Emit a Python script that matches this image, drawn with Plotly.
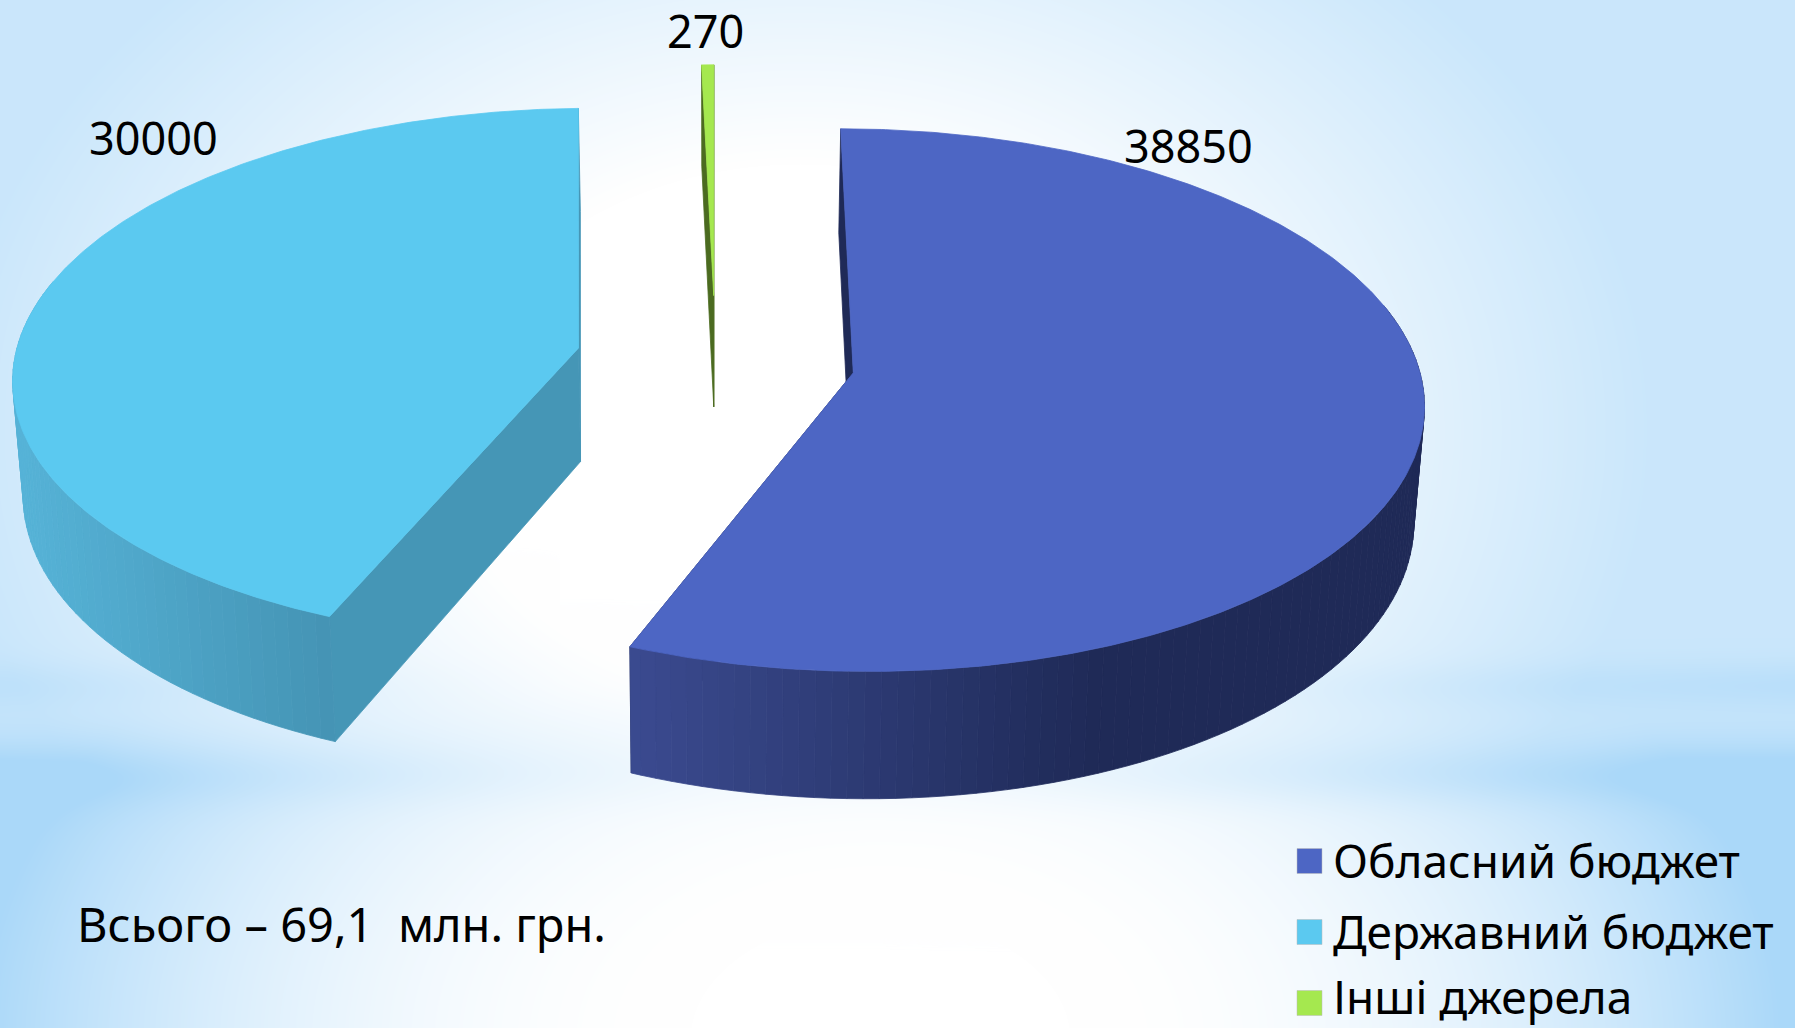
import base64, struct, zlib
import numpy as np
import plotly.graph_objects as go

categories = ["Обласний бюджет", "Державний бюджет", "Інші джерела"]
values = [38850, 30000, 270]
total_text = "Всього – 69,1  млн. грн."
top_colors = ["#4D66C4", "#5BC9F0", "#A5E84F"]
side_colors = [("#3B4B90", "#1F2A57"), ("#56B3D7", "#4594B5"), ("#4B6B20", "#4B6B20")]
cut_colors = ["#1F2A57", "#4596B6", "#4B6B20"]

W, H = 1795, 1028
X0, Y0, RX, RY, DEPTH, PERSP, PULL, SHRINK = 715.4, 360.0, 564.0, 266.0, 114.0, 0.10, 0.248, 0.985
FONT = "Noto Sans"


def background():
    yy, xx = np.mgrid[0:H, 0:W]
    up = np.hypot((xx - 800) / 1000, (yy - 430) / 760)
    low = np.hypot((xx - 880) / 950, (yy - 1040) / 620)
    t_up = 0.62 * np.clip((up - 0.35) / 0.5, 0, 1)
    edge = np.abs(xx - 800) / 800
    band = np.exp(-((yy - 775) / 30.0) ** 2) * (0.02 + 0.22 * np.clip(edge - 0.1, 0, 1))
    band2 = np.exp(-((yy - 685) / 24.0) ** 2) * np.clip(edge - 0.3, 0, 1) * 0.2
    t_low = np.clip((low - 0.2) / 0.75, 0, 1) ** 2
    m = np.clip((yy - 680) / 150.0, 0, 1)
    mix = m * m * (3 - 2 * m)
    t = t_up * (1 - mix) + t_low * mix
    t = np.clip(t + band + band2, 0, 1)
    c0, c1 = np.array([255, 255, 255.0]), np.array([170, 216, 249.0])
    img = (c0[None, None, :] * (1 - t[..., None]) + c1[None, None, :] * t[..., None]).astype(np.uint8)
    raw = b"".join(b"\x00" + img[r].tobytes() for r in range(H))

    def chunk(tag, data):
        return struct.pack(">I", len(data)) + tag + data + struct.pack(">I", zlib.crc32(tag + data) & 0xFFFFFFFF)

    png = b"\x89PNG\r\n\x1a\n" + chunk(b"IHDR", struct.pack(">IIBBBBB", W, H, 8, 2, 0, 0, 0)) + chunk(b"IDAT", zlib.compress(raw, 9)) + chunk(b"IEND", b"")
    return "data:image/png;base64," + base64.b64encode(png).decode()


def project(u, v, lower=False):
    w = 1.0 / (1.0 - PERSP * v)
    x = X0 + RX * u * w
    y = Y0 + RY * v * w
    if lower:
        x = X0 + (x - X0) * SHRINK
        y = y + DEPTH * w
    return x, y


def hex_rgb(c):
    return np.array([int(c[i:i + 2], 16) for i in (1, 3, 5)], float)


def blend(c0, c1, f):
    r = hex_rgb(c0) * (1 - f) + hex_rgb(c1) * f
    return "rgb(%d,%d,%d)" % tuple(r)


def polygon(xs, ys, color):
    return go.Scatter(x=list(xs) + [xs[0]], y=list(ys) + [ys[0]], mode="lines", fill="toself", fillcolor=color,
                      line=dict(color=color, width=0.8), hoverinfo="skip", showlegend=False)


fig = go.Figure()
total = float(sum(values))
fractions = np.array(values) / total
edges = np.concatenate([[0.0], np.cumsum(fractions)]) * 2 * np.pi
grad_range = [(632, 1100), (20, 330), (0, 1)]

for i, name in enumerate(categories):
    a0, a1 = edges[i], edges[i + 1]
    mid = (a0 + a1) / 2
    ou, ov = PULL * np.sin(mid), -PULL * np.cos(mid)
    n = max(2, int(np.degrees(a1 - a0) / 0.5))
    th = np.linspace(a0, a1, n + 1)
    ru, rv = ou + np.sin(th), ov - np.cos(th)
    tx, ty = project(ru, rv)
    bx, by = project(ru, rv, True)
    ax, ay = project(ou, ov)
    cx, cy = project(ou, ov, True)
    # flat cut faces
    for k in (0, -1):
        fig.add_trace(polygon([tx[k], ax, cx, bx[k]], [ty[k], ay, cy, by[k]], cut_colors[i]))
    # outer wall, drawn as shaded strips
    step = 3
    for k in range(0, n, step):
        e = min(k + step, n)
        if np.cos(th[k]) > 0.25 and np.cos(th[e]) > 0.25:
            continue
        lo, hi = grad_range[i]
        f = float(np.clip(((tx[k] + tx[e]) / 2 - lo) / (hi - lo), 0, 1))
        col = blend(side_colors[i][0], side_colors[i][1], f)
        seg = range(k, e + 1)
        fig.add_trace(polygon([tx[j] for j in seg] + [bx[j] for j in reversed(seg)],
                              [ty[j] for j in seg] + [by[j] for j in reversed(seg)], col))
    # top face
    fig.add_trace(polygon(list(tx) + [ax], list(ty) + [ay], top_colors[i]))

label_pos = [(1188, 145), (153, 137), (705, 30)]
anns = []
for v, (x, y) in zip(values, label_pos):
    anns.append(dict(x=x, y=y, text=str(v), xanchor="center", yanchor="middle", showarrow=False,
                     font=dict(family=FONT, size=45, color="#000000")))
anns.append(dict(x=75, y=924, text=total_text, xanchor="left", yanchor="middle", showarrow=False,
                 font=dict(family=FONT, size=47, color="#000000")))

shapes = []
for name, col, yc, ty_c in zip(categories, top_colors, (861, 932, 1003), (860, 931, 996)):
    shapes.append(dict(type="rect", x0=1297, x1=1322, y0=yc - 12.5, y1=yc + 12.5, fillcolor=col,
                       line=dict(color="#BBBBBB", width=0.5), layer="above"))
    anns.append(dict(x=1331, y=ty_c, text=name, xanchor="left", yanchor="middle", showarrow=False,
                     font=dict(family=FONT, size=46, color="#000000")))

fig.update_layout(
    width=W, height=H, autosize=False, margin=dict(l=0, r=0, t=0, b=0), showlegend=False,
    paper_bgcolor="#FFFFFF", plot_bgcolor="rgba(0,0,0,0)",
    xaxis=dict(range=[0, W], visible=False, fixedrange=True),
    yaxis=dict(range=[H, 0], visible=False, fixedrange=True),
    annotations=anns, shapes=shapes,
    images=[dict(source=background(), xref="x", yref="y", x=0, y=0, sizex=W, sizey=H, sizing="stretch",
                 xanchor="left", yanchor="top", layer="below")],
)
fig.write_html("out.html", config=dict(displayModeBar=False),
               post_script="document.body.style.margin='0';document.documentElement.style.overflow='hidden';")
